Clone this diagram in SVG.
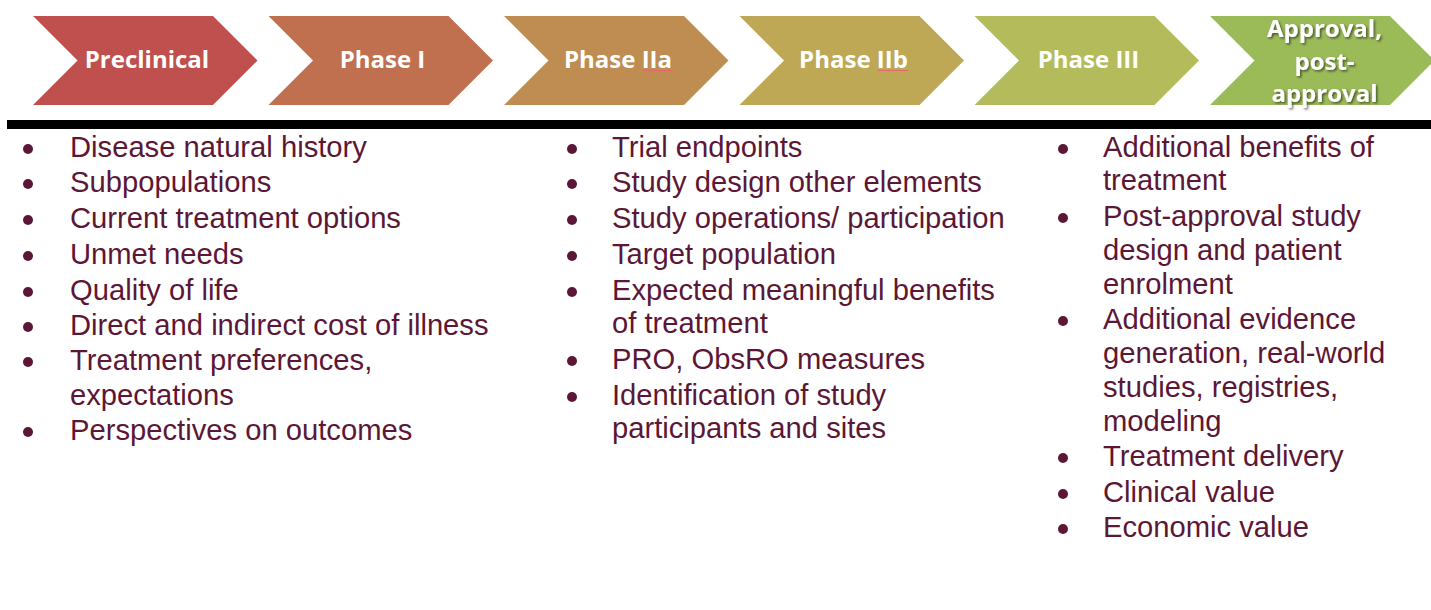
<svg xmlns="http://www.w3.org/2000/svg" width="1431" height="610" viewBox="0 0 1431 610">
<style>
.lbl{font-family:"Open Sans","Noto Sans",sans-serif;font-weight:700;font-size:24px;fill:#fff;text-anchor:middle}
.it{font-family:"Liberation Sans",Arial,sans-serif;font-size:29.2px;fill:#5C1736}
.dot{fill:#5C1736}
.sq{stroke:#e06a6a;stroke-width:1;fill:none}
</style>
<defs>
<path id="chev" d="M0,16 L180,16 L224.5,60.5 L180,105 L0,105 L44.5,60.5 Z"/>
<filter id="sh" x="-10%" y="-20%" width="130%" height="150%">
<feDropShadow dx="1.5" dy="1.5" stdDeviation="1" flood-color="#000" flood-opacity="0.55"/>
</filter>
</defs>
<rect width="1431" height="610" fill="#fff"/>
<g id="phase-preclinical">
<use href="#chev" x="33" fill="#C0504D"/>
<text class="lbl" x="147" y="68">Preclinical</text>
</g>
<g id="phase-1">
<use href="#chev" x="268.5" fill="#C0704F"/>
<text class="lbl" x="382.5" y="68">Phase I</text>
</g>
<g id="phase-2a">
<use href="#chev" x="504" fill="#BF8C51"/>
<text class="lbl" x="618" y="68">Phase IIa</text>
<path class="sq" d="M643,70.5 L673,70.5"/>
</g>
<g id="phase-2b">
<use href="#chev" x="739.5" fill="#BEA855"/>
<text class="lbl" x="853.5" y="68">Phase IIb</text>
<path class="sq" d="M878,70.5 L908,70.5"/>
</g>
<g id="phase-3">
<use href="#chev" x="974.5" fill="#B4BB5A"/>
<text class="lbl" x="1088.5" y="68">Phase III</text>
</g>
<g id="phase-approval">
<use href="#chev" x="1210" fill="#9BBB59"/>
<g filter="url(#sh)">
<text class="lbl" x="1324.5" y="37">Approval,</text>
<text class="lbl" x="1324.5" y="70">post-</text>
<text class="lbl" x="1324.5" y="102">approval</text>
</g>
</g>
<g id="connectors">
<rect x="7" y="120" width="1424" height="9" fill="#000"/>
</g>
<g id="list-preclinical">
<circle class="dot" cx="28" cy="149" r="5"/><text class="it" x="70" y="157">Disease natural history</text>
<circle class="dot" cx="28" cy="184" r="5"/><text class="it" x="70" y="192">Subpopulations</text>
<circle class="dot" cx="28" cy="220" r="5"/><text class="it" x="70" y="228">Current treatment options</text>
<circle class="dot" cx="28" cy="256" r="5"/><text class="it" x="70" y="264">Unmet needs</text>
<circle class="dot" cx="28" cy="292" r="5"/><text class="it" x="70" y="300">Quality of life</text>
<circle class="dot" cx="28" cy="327" r="5"/><text class="it" x="70" y="335">Direct and indirect cost of illness</text>
<circle class="dot" cx="28" cy="362" r="5"/><text class="it" x="70" y="370">Treatment preferences,</text>
<text class="it" x="70" y="405">expectations</text>
<circle class="dot" cx="28" cy="432" r="5"/><text class="it" x="70" y="440">Perspectives on outcomes</text>
</g>
<g id="list-phase2">
<circle class="dot" cx="572" cy="149" r="5"/><text class="it" x="612" y="157">Trial endpoints</text>
<circle class="dot" cx="572" cy="184" r="5"/><text class="it" x="612" y="192">Study design other elements</text>
<circle class="dot" cx="572" cy="220" r="5"/><text class="it" x="612" y="228">Study operations/ participation</text>
<circle class="dot" cx="572" cy="256" r="5"/><text class="it" x="612" y="264">Target population</text>
<circle class="dot" cx="572" cy="292" r="5"/><text class="it" x="612" y="300">Expected meaningful benefits</text>
<text class="it" x="612" y="333">of treatment</text>
<circle class="dot" cx="572" cy="361" r="5"/><text class="it" x="612" y="369">PRO, ObsRO measures</text>
<circle class="dot" cx="572" cy="397" r="5"/><text class="it" x="612" y="405">Identification of study</text>
<text class="it" x="612" y="438">participants and sites</text>
</g>
<g id="list-approval">
<circle class="dot" cx="1063" cy="149" r="5"/><text class="it" x="1103" y="157">Additional benefits of</text>
<text class="it" x="1103" y="190">treatment</text>
<circle class="dot" cx="1063" cy="218" r="5"/><text class="it" x="1103" y="226">Post-approval study</text>
<text class="it" x="1103" y="260">design and patient</text>
<text class="it" x="1103" y="294">enrolment</text>
<circle class="dot" cx="1063" cy="321" r="5"/><text class="it" x="1103" y="329">Additional evidence</text>
<text class="it" x="1103" y="363">generation, real-world</text>
<text class="it" x="1103" y="397">studies, registries,</text>
<text class="it" x="1103" y="431">modeling</text>
<circle class="dot" cx="1063" cy="458" r="5"/><text class="it" x="1103" y="466">Treatment delivery</text>
<circle class="dot" cx="1063" cy="494" r="5"/><text class="it" x="1103" y="502">Clinical value</text>
<circle class="dot" cx="1063" cy="529" r="5"/><text class="it" x="1103" y="537">Economic value</text>
</g>
</svg>
